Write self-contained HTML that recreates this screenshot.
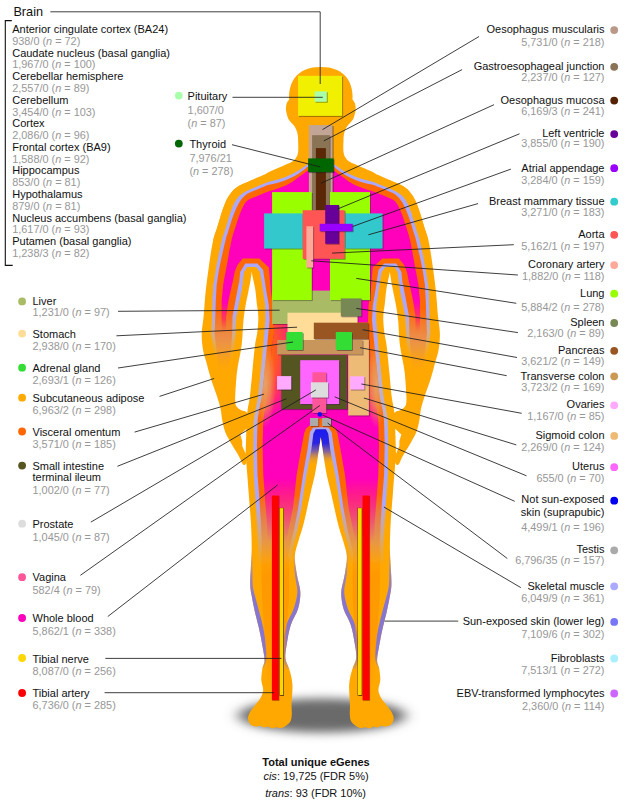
<!DOCTYPE html>
<html lang="en"><head><meta charset="utf-8"><title>GTEx eGenes by tissue</title>
<style>
html,body{margin:0;padding:0;background:#fff}
body{width:627px;height:805px;overflow:hidden;position:relative}
svg{display:block;position:absolute;left:0;top:0}
text{font-family:"Liberation Sans",Arial,Helvetica,sans-serif;font-size:11px;fill:#111}
.v{fill:#979797;font-size:10.9px}
.e{text-anchor:end}
.m{text-anchor:middle}
.b{font-weight:bold}
.h{font-size:12.7px}
.ln{stroke:#1c1c1c;stroke-width:.85;fill:none}
i{font-style:italic}
</style></head><body>
<svg width="627" height="805" viewBox="0 0 627 805">
<defs>
<filter id="bl" x="-40%" y="-150%" width="180%" height="400%"><feGaussianBlur stdDeviation="7 5"/></filter>
<clipPath id="cs"><path d="M320.8 67C319.2 67.1 314.4 67.2 311.5 67.8C308.6 68.4 305.9 69.3 303.5 70.6C301.1 71.8 298.8 73.5 297 75.3C295.2 77.1 293.8 79 292.6 81.2C291.4 83.4 290.6 86.2 290 88.5C289.4 90.8 289.2 93.2 289.1 95C289 96.8 289.1 98.8 289.1 99.5L289.1 99.5C288.7 100.2 287.1 101.9 286.6 103.5C286.1 105.1 285.9 107.2 285.9 109C285.9 110.8 286.3 112.2 286.8 114C287.3 115.8 287.7 117.9 289 120C290.3 122.1 293.2 124.3 294.6 126.4C296 128.5 296.7 130.5 297.3 132.8C297.9 135.1 298 136.8 298.1 140C298.2 143.2 298.5 148.9 298.1 152C297.7 155.1 296.8 156.6 295.7 158.3C294.6 160 293.6 160.8 291.5 162.1C289.4 163.4 286.4 164.4 282.8 166C279.2 167.6 273.2 169.9 270 171.4C266.8 172.9 267 173.3 263.8 174.8C260.6 176.3 255.2 178.5 251 180.4C246.8 182.3 241.7 184.1 238.3 186.3C234.9 188.5 232.7 190.7 230.6 193.4C228.5 196.1 227.1 198.7 225.5 202.3C223.9 205.9 222.4 210.6 221 214.8C219.6 219 218.5 223.4 217.2 227.6C215.9 231.8 214 237.9 213.4 240L251.7 271.9C252 273.6 253.2 278.8 253.8 282C254.4 285.2 255 287.4 255.5 291C256 294.6 256.4 300.3 256.8 303.8C257.2 307.3 257.8 309.3 258 312C258.2 314.7 258.4 316.5 258.3 320C258.2 323.5 257.8 328.8 257.2 333C256.6 337.2 255.8 339.2 255 345.5C254.2 351.8 253.2 362.5 252.4 371C251.6 379.5 250.7 390 249.9 396.5C249.1 403 248.2 405.2 247.6 410C247 414.8 246.7 419.2 246.4 425C246.1 430.8 246 439.2 246 445C246 450.8 246 454.8 246.2 460C246.4 465.2 247 470.7 247.4 476C247.8 481.3 248 484 248.6 492C249.2 500 250.5 514.7 251 524C251.5 533.3 251.7 541.3 251.7 548C251.7 554.7 251.2 558.7 251 564C250.8 569.3 250.3 576 250.2 580C250.1 584 250.2 585.3 250.4 588C250.7 590.7 250.9 592 251.7 596C252.4 600 253.7 606.7 254.9 612C256.1 617.3 257.7 622.7 258.9 628C260.1 633.3 261.2 638.7 262.1 644C263 649.3 264.5 655.8 264.5 660C264.5 664.2 262.8 665.7 262.3 669C261.8 672.3 261.2 676.5 261.3 680C261.4 683.5 263.3 687 263.2 690C263.1 693 261.9 695.3 260.5 698C259.1 700.7 256.3 703.5 254.5 706C252.7 708.5 250.6 710.8 249.5 713C248.4 715.2 247.8 717.1 248 719C248.2 720.9 249.2 723.2 250.5 724.5C251.8 725.8 254.4 726.4 256 726.6C257.6 726.8 258.7 725.7 260 725.8C261.3 725.9 262.7 727.3 264 727.4C265.3 727.5 266.7 726.5 268 726.6C269.3 726.8 270.6 728.2 272 728.3C273.4 728.4 275 727.2 276.5 727.2C278 727.2 279.4 728.2 281 728C282.6 727.8 284.4 727 286 725.8C287.6 724.6 289.6 723 290.6 721C291.6 719 291.6 716.7 291.8 714C292 711.3 291.5 710 291.6 705C291.7 700 292.8 690 292.4 684C292 678 290.4 673.3 289.2 669C288 664.7 285.8 662.2 285.4 658C285 653.8 285.9 649.5 286.8 644C287.7 638.5 288.9 630.8 290.8 625C292.7 619.2 296.4 614.3 298 609C299.6 603.7 300.4 597.8 300.4 593C300.4 588.2 298.7 583.6 298 580C297.3 576.4 296.9 575.6 296.4 571.6C295.9 567.6 294.4 561 294.8 555.7C295.2 550.4 297.3 545 298.8 539.7C300.3 534.4 301.6 531.8 303.6 523.8C305.6 515.8 308.9 500 310.8 491.9C312.7 483.8 313.7 480.3 314.8 475C315.9 469.7 316.4 466.3 317.4 460C318.4 453.7 320.2 441.1 320.8 437.3L320.8 437.3C321.4 441.1 323.2 453.7 324.2 460C325.2 466.3 325.7 469.7 326.8 475C327.9 480.3 328.9 483.8 330.8 491.9C332.7 500 336 515.8 338 523.8C340 531.8 341.3 534.4 342.8 539.7C344.3 545 346.4 550.4 346.8 555.7C347.2 561 345.7 567.6 345.2 571.6C344.7 575.6 344.3 576.4 343.6 580C342.9 583.6 341.2 588.2 341.2 593C341.2 597.8 342 603.7 343.6 609C345.2 614.3 348.9 619.2 350.8 625C352.7 630.8 353.9 638.5 354.8 644C355.7 649.5 356.6 653.8 356.2 658C355.8 662.2 353.6 664.7 352.4 669C351.2 673.3 349.6 678 349.2 684C348.8 690 349.9 700 350 705C350.1 710 349.6 711.3 349.8 714C350 716.7 350 719 351 721C352 723 354 724.6 355.6 725.8C357.2 727 359 727.8 360.6 728C362.2 728.2 363.6 727.2 365.1 727.2C366.6 727.2 368.2 728.4 369.6 728.3C371 728.2 372.3 726.8 373.6 726.6C374.9 726.5 376.3 727.5 377.6 727.4C378.9 727.3 380.3 725.9 381.6 725.8C382.9 725.7 384 726.8 385.6 726.6C387.2 726.4 389.8 725.8 391.1 724.5C392.4 723.2 393.4 720.9 393.6 719C393.8 717.1 393.2 715.2 392.1 713C391 710.8 388.9 708.5 387.1 706C385.3 703.5 382.6 700.7 381.1 698C379.7 695.3 378.5 693 378.4 690C378.3 687 380.2 683.5 380.3 680C380.4 676.5 379.8 672.3 379.3 669C378.8 665.7 377.1 664.2 377.1 660C377.1 655.8 378.6 649.3 379.5 644C380.4 638.7 381.5 633.3 382.7 628C383.9 622.7 385.5 617.3 386.7 612C387.9 606.7 389.2 600 389.9 596C390.7 592 391 590.7 391.2 588C391.5 585.3 391.5 584 391.4 580C391.3 576 390.9 569.3 390.6 564C390.4 558.7 389.9 554.7 389.9 548C389.9 541.3 390.1 533.3 390.6 524C391.1 514.7 392.4 500 393 492C393.6 484 393.8 481.3 394.2 476C394.6 470.7 395.2 465.2 395.4 460C395.6 454.8 395.6 450.8 395.6 445C395.6 439.2 395.5 430.8 395.2 425C394.9 419.2 394.6 414.8 394 410C393.4 405.2 392.5 403 391.7 396.5C390.9 390 390.1 379.5 389.2 371C388.4 362.5 387.4 351.8 386.6 345.5C385.8 339.2 385 337.2 384.4 333C383.9 328.8 383.4 323.5 383.3 320C383.2 316.5 383.4 314.7 383.6 312C383.9 309.3 384.4 307.3 384.8 303.8C385.2 300.3 385.6 294.6 386.1 291C386.6 287.4 387.2 285.2 387.8 282C388.4 278.8 389.6 273.6 389.9 271.9L428.2 240C427.6 237.9 425.7 231.8 424.4 227.6C423.1 223.4 422 219 420.6 214.8C419.2 210.6 417.7 205.9 416.1 202.3C414.5 198.7 413.1 196.1 411 193.4C408.9 190.7 406.7 188.5 403.3 186.3C399.9 184.1 394.9 182.3 390.6 180.4C386.4 178.5 381 176.3 377.8 174.8C374.6 173.3 374.8 172.9 371.6 171.4C368.4 169.9 362.4 167.6 358.8 166C355.2 164.4 352.2 163.4 350.1 162.1C348 160.8 347 160 345.9 158.3C344.8 156.6 343.9 155.1 343.5 152C343.1 148.9 343.4 143.2 343.5 140C343.6 136.8 343.7 135.1 344.3 132.8C344.9 130.5 345.6 128.5 347 126.4C348.4 124.3 351.3 122.1 352.6 120C353.9 117.9 354.3 115.8 354.8 114C355.3 112.2 355.7 110.8 355.7 109C355.7 107.2 355.5 105.1 355 103.5C354.5 101.9 352.9 100.2 352.5 99.5L352.5 99.5C352.5 98.8 352.6 96.8 352.5 95C352.4 93.2 352.2 90.8 351.6 88.5C351 86.2 350.2 83.4 349 81.2C347.8 79 346.4 77.1 344.6 75.3C342.8 73.5 340.5 71.8 338.1 70.6C335.7 69.3 333 68.4 330.1 67.8C327.2 67.2 322.4 67.1 320.8 67Z"/></clipPath>
<linearGradient id="gL" gradientUnits="userSpaceOnUse" x1="0" y1="502" x2="0" y2="566"><stop offset="0" stop-color="#ABA8FA"/><stop offset="1" stop-color="#ABA8FA" stop-opacity="0"/></linearGradient>
<linearGradient id="gR" gradientUnits="userSpaceOnUse" x1="0" y1="494" x2="0" y2="560"><stop offset="0" stop-color="#FF6702"/><stop offset="1" stop-color="#FF6702" stop-opacity="0"/></linearGradient>
<linearGradient id="gM" gradientUnits="userSpaceOnUse" x1="0" y1="478" x2="0" y2="542"><stop offset="0" stop-color="#FF00BB"/><stop offset="1" stop-color="#FF00BB" stop-opacity="0"/></linearGradient>
<linearGradient id="aL" gradientUnits="userSpaceOnUse" x1="0" y1="312" x2="0" y2="360"><stop offset="0" stop-color="#ABA8FA"/><stop offset="0.5" stop-color="#C8B0B0" stop-opacity="0.75"/><stop offset="1" stop-color="#E0A860" stop-opacity="0"/></linearGradient>
<linearGradient id="aR" gradientUnits="userSpaceOnUse" x1="0" y1="308" x2="0" y2="372"><stop offset="0" stop-color="#FF6702"/><stop offset="0.45" stop-color="#F08840" stop-opacity="0.9"/><stop offset="1" stop-color="#F09830" stop-opacity="0"/></linearGradient>
<linearGradient id="aM" gradientUnits="userSpaceOnUse" x1="0" y1="302" x2="0" y2="332"><stop offset="0" stop-color="#FF00BB"/><stop offset="0.6" stop-color="#FF3060" stop-opacity="0.8"/><stop offset="1" stop-color="#FF5040" stop-opacity="0"/></linearGradient>
<radialGradient id="gV" gradientUnits="userSpaceOnUse" cx="255" cy="352" r="1" gradientTransform="translate(255 352) scale(46 76) translate(-255 -352)"><stop offset="0" stop-color="#FF6A00"/><stop offset="0.3" stop-color="#FF6A00"/><stop offset="0.5" stop-color="#FF5030" stop-opacity="1"/><stop offset="0.72" stop-color="#FF3262" stop-opacity="0.95"/><stop offset="0.88" stop-color="#FF1890" stop-opacity="0.6"/><stop offset="1" stop-color="#FF00BB" stop-opacity="0"/></radialGradient>
<radialGradient id="gT" gradientUnits="userSpaceOnUse" cx="265" cy="384" r="1" gradientTransform="translate(265 384) scale(11 44) translate(-265 -384)"><stop offset="0" stop-color="#E4A470" stop-opacity="0.95"/><stop offset="0.5" stop-color="#EC9858" stop-opacity="0.7"/><stop offset="1" stop-color="#F09048" stop-opacity="0"/></radialGradient>
<linearGradient id="gLz" gradientUnits="userSpaceOnUse" x1="0" y1="335" x2="0" y2="436"><stop offset="0" stop-color="#CDB6AA" stop-opacity="0"/><stop offset="0.4" stop-color="#CDB6AA" stop-opacity="0.62"/><stop offset="0.8" stop-color="#CDB6AA" stop-opacity="0.58"/><stop offset="1" stop-color="#CDB6AA" stop-opacity="0"/></linearGradient>
<linearGradient id="gB" gradientUnits="userSpaceOnUse" x1="0" y1="429" x2="0" y2="466"><stop offset="0" stop-color="#1a1af0"/><stop offset="0.38" stop-color="#2a24e4"/><stop offset="0.6" stop-color="#7058b0" stop-opacity="0.9"/><stop offset="0.8" stop-color="#d09050" stop-opacity="0.6"/><stop offset="1" stop-color="#FFA802" stop-opacity="0"/></linearGradient>
<linearGradient id="gC" gradientUnits="userSpaceOnUse" x1="0" y1="548" x2="0" y2="672"><stop offset="0" stop-color="#9A88C8" stop-opacity="0"/><stop offset="0.22" stop-color="#9080CC" stop-opacity="0.85"/><stop offset="0.4" stop-color="#8676D2" stop-opacity="1"/><stop offset="0.85" stop-color="#8676D2" stop-opacity="1"/><stop offset="1" stop-color="#8676D2" stop-opacity="0"/></linearGradient>
<linearGradient id="gS" gradientUnits="userSpaceOnUse" x1="0" y1="540" x2="0" y2="690"><stop offset="0" stop-color="#FF8C00" stop-opacity="0"/><stop offset="0.25" stop-color="#FF8C00" stop-opacity="0.55"/><stop offset="0.7" stop-color="#FF8C00" stop-opacity="0.45"/><stop offset="1" stop-color="#FF8C00" stop-opacity="0"/></linearGradient>
</defs>
<ellipse cx="322" cy="715.5" rx="84" ry="17" fill="#6a6a6a" filter="url(#bl)"/>
<path d="M320.8 67C319.2 67.1 314.4 67.2 311.5 67.8C308.6 68.4 305.9 69.3 303.5 70.6C301.1 71.8 298.8 73.5 297 75.3C295.2 77.1 293.8 79 292.6 81.2C291.4 83.4 290.6 86.2 290 88.5C289.4 90.8 289.2 93.2 289.1 95C289 96.8 289.1 98.8 289.1 99.5L289.1 99.5C288.7 100.2 287.1 101.9 286.6 103.5C286.1 105.1 285.9 107.2 285.9 109C285.9 110.8 286.3 112.2 286.8 114C287.3 115.8 287.7 117.9 289 120C290.3 122.1 293.2 124.3 294.6 126.4C296 128.5 296.7 130.5 297.3 132.8C297.9 135.1 298 136.8 298.1 140C298.2 143.2 298.5 148.9 298.1 152C297.7 155.1 296.8 156.6 295.7 158.3C294.6 160 293.6 160.8 291.5 162.1C289.4 163.4 286.4 164.4 282.8 166C279.2 167.6 273.2 169.9 270 171.4C266.8 172.9 267 173.3 263.8 174.8C260.6 176.3 255.2 178.5 251 180.4C246.8 182.3 241.7 184.1 238.3 186.3C234.9 188.5 232.7 190.7 230.6 193.4C228.5 196.1 227.1 198.7 225.5 202.3C223.9 205.9 222.4 210.6 221 214.8C219.6 219 218.5 223.4 217.2 227.6C215.9 231.8 214 237.9 213.4 240L251.7 271.9C252 273.6 253.2 278.8 253.8 282C254.4 285.2 255 287.4 255.5 291C256 294.6 256.4 300.3 256.8 303.8C257.2 307.3 257.8 309.3 258 312C258.2 314.7 258.4 316.5 258.3 320C258.2 323.5 257.8 328.8 257.2 333C256.6 337.2 255.8 339.2 255 345.5C254.2 351.8 253.2 362.5 252.4 371C251.6 379.5 250.7 390 249.9 396.5C249.1 403 248.2 405.2 247.6 410C247 414.8 246.7 419.2 246.4 425C246.1 430.8 246 439.2 246 445C246 450.8 246 454.8 246.2 460C246.4 465.2 247 470.7 247.4 476C247.8 481.3 248 484 248.6 492C249.2 500 250.5 514.7 251 524C251.5 533.3 251.7 541.3 251.7 548C251.7 554.7 251.2 558.7 251 564C250.8 569.3 250.3 576 250.2 580C250.1 584 250.2 585.3 250.4 588C250.7 590.7 250.9 592 251.7 596C252.4 600 253.7 606.7 254.9 612C256.1 617.3 257.7 622.7 258.9 628C260.1 633.3 261.2 638.7 262.1 644C263 649.3 264.5 655.8 264.5 660C264.5 664.2 262.8 665.7 262.3 669C261.8 672.3 261.2 676.5 261.3 680C261.4 683.5 263.3 687 263.2 690C263.1 693 261.9 695.3 260.5 698C259.1 700.7 256.3 703.5 254.5 706C252.7 708.5 250.6 710.8 249.5 713C248.4 715.2 247.8 717.1 248 719C248.2 720.9 249.2 723.2 250.5 724.5C251.8 725.8 254.4 726.4 256 726.6C257.6 726.8 258.7 725.7 260 725.8C261.3 725.9 262.7 727.3 264 727.4C265.3 727.5 266.7 726.5 268 726.6C269.3 726.8 270.6 728.2 272 728.3C273.4 728.4 275 727.2 276.5 727.2C278 727.2 279.4 728.2 281 728C282.6 727.8 284.4 727 286 725.8C287.6 724.6 289.6 723 290.6 721C291.6 719 291.6 716.7 291.8 714C292 711.3 291.5 710 291.6 705C291.7 700 292.8 690 292.4 684C292 678 290.4 673.3 289.2 669C288 664.7 285.8 662.2 285.4 658C285 653.8 285.9 649.5 286.8 644C287.7 638.5 288.9 630.8 290.8 625C292.7 619.2 296.4 614.3 298 609C299.6 603.7 300.4 597.8 300.4 593C300.4 588.2 298.7 583.6 298 580C297.3 576.4 296.9 575.6 296.4 571.6C295.9 567.6 294.4 561 294.8 555.7C295.2 550.4 297.3 545 298.8 539.7C300.3 534.4 301.6 531.8 303.6 523.8C305.6 515.8 308.9 500 310.8 491.9C312.7 483.8 313.7 480.3 314.8 475C315.9 469.7 316.4 466.3 317.4 460C318.4 453.7 320.2 441.1 320.8 437.3L320.8 437.3C321.4 441.1 323.2 453.7 324.2 460C325.2 466.3 325.7 469.7 326.8 475C327.9 480.3 328.9 483.8 330.8 491.9C332.7 500 336 515.8 338 523.8C340 531.8 341.3 534.4 342.8 539.7C344.3 545 346.4 550.4 346.8 555.7C347.2 561 345.7 567.6 345.2 571.6C344.7 575.6 344.3 576.4 343.6 580C342.9 583.6 341.2 588.2 341.2 593C341.2 597.8 342 603.7 343.6 609C345.2 614.3 348.9 619.2 350.8 625C352.7 630.8 353.9 638.5 354.8 644C355.7 649.5 356.6 653.8 356.2 658C355.8 662.2 353.6 664.7 352.4 669C351.2 673.3 349.6 678 349.2 684C348.8 690 349.9 700 350 705C350.1 710 349.6 711.3 349.8 714C350 716.7 350 719 351 721C352 723 354 724.6 355.6 725.8C357.2 727 359 727.8 360.6 728C362.2 728.2 363.6 727.2 365.1 727.2C366.6 727.2 368.2 728.4 369.6 728.3C371 728.2 372.3 726.8 373.6 726.6C374.9 726.5 376.3 727.5 377.6 727.4C378.9 727.3 380.3 725.9 381.6 725.8C382.9 725.7 384 726.8 385.6 726.6C387.2 726.4 389.8 725.8 391.1 724.5C392.4 723.2 393.4 720.9 393.6 719C393.8 717.1 393.2 715.2 392.1 713C391 710.8 388.9 708.5 387.1 706C385.3 703.5 382.6 700.7 381.1 698C379.7 695.3 378.5 693 378.4 690C378.3 687 380.2 683.5 380.3 680C380.4 676.5 379.8 672.3 379.3 669C378.8 665.7 377.1 664.2 377.1 660C377.1 655.8 378.6 649.3 379.5 644C380.4 638.7 381.5 633.3 382.7 628C383.9 622.7 385.5 617.3 386.7 612C387.9 606.7 389.2 600 389.9 596C390.7 592 391 590.7 391.2 588C391.5 585.3 391.5 584 391.4 580C391.3 576 390.9 569.3 390.6 564C390.4 558.7 389.9 554.7 389.9 548C389.9 541.3 390.1 533.3 390.6 524C391.1 514.7 392.4 500 393 492C393.6 484 393.8 481.3 394.2 476C394.6 470.7 395.2 465.2 395.4 460C395.6 454.8 395.6 450.8 395.6 445C395.6 439.2 395.5 430.8 395.2 425C394.9 419.2 394.6 414.8 394 410C393.4 405.2 392.5 403 391.7 396.5C390.9 390 390.1 379.5 389.2 371C388.4 362.5 387.4 351.8 386.6 345.5C385.8 339.2 385 337.2 384.4 333C383.9 328.8 383.4 323.5 383.3 320C383.2 316.5 383.4 314.7 383.6 312C383.9 309.3 384.4 307.3 384.8 303.8C385.2 300.3 385.6 294.6 386.1 291C386.6 287.4 387.2 285.2 387.8 282C388.4 278.8 389.6 273.6 389.9 271.9L428.2 240C427.6 237.9 425.7 231.8 424.4 227.6C423.1 223.4 422 219 420.6 214.8C419.2 210.6 417.7 205.9 416.1 202.3C414.5 198.7 413.1 196.1 411 193.4C408.9 190.7 406.7 188.5 403.3 186.3C399.9 184.1 394.9 182.3 390.6 180.4C386.4 178.5 381 176.3 377.8 174.8C374.6 173.3 374.8 172.9 371.6 171.4C368.4 169.9 362.4 167.6 358.8 166C355.2 164.4 352.2 163.4 350.1 162.1C348 160.8 347 160 345.9 158.3C344.8 156.6 343.9 155.1 343.5 152C343.1 148.9 343.4 143.2 343.5 140C343.6 136.8 343.7 135.1 344.3 132.8C344.9 130.5 345.6 128.5 347 126.4C348.4 124.3 351.3 122.1 352.6 120C353.9 117.9 354.3 115.8 354.8 114C355.3 112.2 355.7 110.8 355.7 109C355.7 107.2 355.5 105.1 355 103.5C354.5 101.9 352.9 100.2 352.5 99.5L352.5 99.5C352.5 98.8 352.6 96.8 352.5 95C352.4 93.2 352.2 90.8 351.6 88.5C351 86.2 350.2 83.4 349 81.2C347.8 79 346.4 77.1 344.6 75.3C342.8 73.5 340.5 71.8 338.1 70.6C335.7 69.3 333 68.4 330.1 67.8C327.2 67.2 322.4 67.1 320.8 67Z" fill="#FFA802"/>
<path d="M252 180C249.7 181.1 241.9 184.1 238.3 186.3C234.7 188.5 232.7 190.7 230.6 193.4C228.5 196.1 227.1 198.7 225.5 202.3C223.9 205.9 222.4 210.6 221 214.8C219.6 219 218.5 223.4 217.2 227.6C215.9 231.8 214.6 233.7 213.2 240C211.8 246.3 210.2 257 209 265.5C207.8 274 206.6 282.5 205.7 291C204.8 299.5 204.3 309.4 203.6 316.5C202.9 323.6 201.8 328.3 201.7 333.8C201.6 339.3 202.2 344.8 203 349.7C203.8 354.6 205.7 359.6 206.6 363C207.5 366.4 207.5 366.7 208.4 370C209.3 373.3 210.8 378.6 212.2 382.8C213.6 387.1 215.3 391.2 216.7 395.5C218.1 399.8 219.6 404.1 220.5 408.3C221.4 412.6 221.6 417.1 222.4 421C223.2 424.9 224 428.8 225.2 432C226.4 435.2 228.1 437.8 229.4 440.2C230.7 442.6 231.8 444.5 233 446.5C234.2 448.5 235.3 449.9 236.5 452C237.7 454.1 239.3 457 240.3 459C241.3 461 241.9 463 242.6 464C243.3 465 244 465.2 244.6 465C245.2 464.8 245.9 464.2 246.4 463C246.9 461.8 247.3 458.8 247.5 458L248.5 430L248.5 414C248 413.6 246.8 412.4 245.4 411.6C244 410.9 241.6 410.5 240 409.5C238.4 408.5 236.8 407.1 236 405.5C235.2 403.9 235.3 401.5 235.2 400C235.1 398.5 234.9 401.3 235.2 396.5C235.5 391.7 236 379.5 237.1 371C238.2 362.5 240.5 354 241.6 345.5C242.7 337 242.8 326.9 243.5 320C244.2 313.1 245.1 308.6 245.9 303.8C246.7 299 247.8 294.8 248.5 291C249.2 287.2 249.9 284.2 250.4 281C250.9 277.8 251.5 273.4 251.7 271.9L262 240L262 195L252 180Z" fill="#FFA802"/>
<path d="M252 180C249.7 181.1 241.9 184.1 238.3 186.3C234.7 188.5 232.7 190.7 230.6 193.4C228.5 196.1 227.1 198.7 225.5 202.3C223.9 205.9 222.4 210.6 221 214.8C219.6 219 218.5 223.4 217.2 227.6C215.9 231.8 214.6 233.7 213.2 240C211.8 246.3 210.2 257 209 265.5C207.8 274 206.6 282.5 205.7 291C204.8 299.5 204.3 309.4 203.6 316.5C202.9 323.6 201.8 328.3 201.7 333.8C201.6 339.3 202.2 344.8 203 349.7C203.8 354.6 205.7 359.6 206.6 363C207.5 366.4 207.5 366.7 208.4 370C209.3 373.3 210.8 378.6 212.2 382.8C213.6 387.1 215.3 391.2 216.7 395.5C218.1 399.8 219.6 404.1 220.5 408.3C221.4 412.6 221.6 417.1 222.4 421C223.2 424.9 224 428.8 225.2 432C226.4 435.2 228.1 437.8 229.4 440.2C230.7 442.6 231.8 444.5 233 446.5C234.2 448.5 235.3 449.9 236.5 452C237.7 454.1 239.3 457 240.3 459C241.3 461 241.9 463 242.6 464C243.3 465 244 465.2 244.6 465C245.2 464.8 245.9 464.2 246.4 463C246.9 461.8 247.3 458.8 247.5 458L248.5 430L248.5 414C248 413.6 246.8 412.4 245.4 411.6C244 410.9 241.6 410.5 240 409.5C238.4 408.5 236.8 407.1 236 405.5C235.2 403.9 235.3 401.5 235.2 400C235.1 398.5 234.9 401.3 235.2 396.5C235.5 391.7 236 379.5 237.1 371C238.2 362.5 240.5 354 241.6 345.5C242.7 337 242.8 326.9 243.5 320C244.2 313.1 245.1 308.6 245.9 303.8C246.7 299 247.8 294.8 248.5 291C249.2 287.2 249.9 284.2 250.4 281C250.9 277.8 251.5 273.4 251.7 271.9L262 240L262 195L252 180Z" fill="#FFA802" transform="translate(641.6 0) scale(-1 1)"/>
<path d="M246.4 428.8L240.3 434.5L242.2 440.9L242.2 446L245.6 453.7Z" fill="#fff"/>
<path d="M246.4 428.8L240.3 434.5L242.2 440.9L242.2 446L245.6 453.7Z" fill="#fff" transform="translate(641.6 0) scale(-1 1)"/>
<path d="M320.8 157.5C318.7 158.6 311 162.5 308.3 164C305.6 165.5 306.5 165.2 304.4 166.6C302.3 168 299.1 170.4 295.5 172.3C291.9 174.2 287.1 176.4 282.8 178C278.6 179.6 273.2 180.6 270 181.6C266.8 182.6 267 182.6 263.8 183.8C260.6 185.1 254.6 187.4 251 189.1C247.4 190.8 244.5 192.1 242.1 193.8C239.7 195.5 238.1 197.1 236.4 199.5C234.7 201.9 233.3 205.1 231.9 208.5C230.5 211.9 229.3 216.2 228.1 220C226.9 223.8 225.7 228.1 224.7 231.4C223.7 234.7 223.3 234.3 222 240C220.7 245.7 218 258 216.6 265.5C215.2 273 214.3 279.2 213.6 285C212.9 290.8 212.8 297.5 212.6 300L239.6 300L241.5 291L244 272L247.2 267L256.1 267L260 271.9L263.1 291L265.2 305L265.4 320L263.3 345.5L260.7 371L258.2 396.5L255.5 410L253.7 420.5L253.3 446L253.7 475L254.9 492L257 524L258 548L257.5 570L291 570L293 548L297.5 530L301.3 508L303.6 492L306.4 475L311.3 450L313.4 433.5L315.7 429.3L320.8 429.2L320.8 429.2L325.9 429.3L328.2 433.5L330.3 450L335.2 475L338 492L340.3 508L344.1 530L348.6 548L350.6 570L384.1 570L383.6 548L384.6 524L386.7 492L387.9 475L388.3 446L387.9 420.5L386.1 410L383.4 396.5L380.9 371L378.3 345.5L376.2 320L376.4 305L378.5 291L381.6 271.9L385.5 267L394.4 267L397.6 272L400.1 291L402 300L429 300C428.8 297.5 428.7 290.8 428 285C427.3 279.2 426.4 273 425 265.5C423.6 258 421 245.7 419.6 240C418.2 234.3 417.9 234.7 416.9 231.4C415.9 228.1 414.7 223.8 413.5 220C412.3 216.2 411.1 211.9 409.7 208.5C408.3 205.1 406.9 201.9 405.2 199.5C403.5 197.1 401.9 195.5 399.5 193.8C397.1 192.1 394.2 190.8 390.6 189.1C387 187.4 381 185.1 377.8 183.8C374.6 182.6 374.8 182.6 371.6 181.6C368.4 180.6 363.1 179.6 358.8 178C354.6 176.4 349.7 174.2 346.1 172.3C342.5 170.4 339.3 168 337.2 166.6C335.1 165.2 336 165.5 333.3 164C330.6 162.5 322.9 158.6 320.8 157.5Z" fill="url(#gL)"/>
<path d="M320.8 160.5C318.7 161.5 311 165 308.3 166.5C305.6 168 306.5 167.9 304.4 169.4C302.3 170.9 299.1 173.5 295.5 175.5C291.9 177.5 287.1 179.7 282.8 181.2C278.6 182.7 273.2 183.7 270 184.6C266.8 185.5 267 185.4 263.8 186.7C260.6 187.9 254.3 190.5 251 192.1C247.7 193.7 245.9 194.7 244 196.4C242.1 198.1 241 199.7 239.5 202.1C238 204.5 236.5 207.8 235.1 211C233.7 214.2 232.5 217.6 231.3 221.2C230.1 224.8 228.8 229.6 227.8 232.7C226.9 235.8 226.9 234.5 225.6 240C224.3 245.5 221.3 258 219.8 265.5C218.3 273 217.5 279.2 216.8 285C216.1 290.8 216 297.5 215.8 300L235.6 300L238.3 291L240.2 272L245.3 263.6L257.4 263.6L263.1 270L266.3 291L268.8 305L269.6 320L267.1 345.5L264.5 371L262 396.5L259 410L257.5 420.5L256.9 446L257.5 475L258.9 492L261 524L262 548L261.5 566L287.5 566L289.5 548L294 530L298.2 508L300.5 492L303 475L307.4 450L310 432L313.2 427.5L320.8 427.3L320.8 427.3L328.4 427.5L331.6 432L334.2 450L338.6 475L341.1 492L343.4 508L347.6 530L352.1 548L354.1 566L380.1 566L379.6 548L380.6 524L382.7 492L384.1 475L384.7 446L384.1 420.5L382.6 410L379.6 396.5L377.1 371L374.5 345.5L372 320L372.8 305L375.3 291L378.5 270L384.2 263.6L396.3 263.6L401.4 272L403.3 291L406 300L425.8 300C425.6 297.5 425.5 290.8 424.8 285C424.1 279.2 423.3 273 421.8 265.5C420.3 258 417.3 245.5 416 240C414.7 234.5 414.8 235.8 413.8 232.7C412.9 229.6 411.5 224.8 410.3 221.2C409.1 217.6 407.9 214.2 406.5 211C405.1 207.8 403.6 204.5 402.1 202.1C400.6 199.7 399.5 198.1 397.6 196.4C395.7 194.7 393.9 193.7 390.6 192.1C387.3 190.5 381 187.9 377.8 186.7C374.6 185.4 374.8 185.5 371.6 184.6C368.4 183.7 363.1 182.7 358.8 181.2C354.6 179.7 349.7 177.5 346.1 175.5C342.5 173.5 339.3 170.9 337.2 169.4C335.1 167.9 336 168 333.3 166.5C330.6 165 322.9 161.5 320.8 160.5Z" fill="url(#gR)"/>
<path d="M320.8 165C318.7 165.9 311.5 168.8 308.3 170.4C305.1 172 305.1 172.6 301.9 174.8C298.7 177 293.4 181.5 289.1 183.8C284.9 186.2 279.6 187.7 276.4 188.9C273.2 190.1 272.1 190.2 270 190.9C267.9 191.6 266.5 192.1 263.8 193.2C261.1 194.3 256.4 196.3 253.6 197.6C250.8 198.9 248.9 199.4 247.2 200.8C245.5 202.2 244.7 203.6 243.4 205.9C242.1 208.2 240.8 211.4 239.5 214.8C238.2 218.2 237 222.1 235.7 226.3C234.4 230.5 233.1 233.5 231.6 240C230.1 246.5 228.2 258 226.8 265.5C225.4 273 224 279.2 223.2 285C222.3 290.8 221.9 297.5 221.7 300L228.6 300L231 291L234.6 272L237.5 265L242.7 258.5L259.3 258.5L268.9 267.4L270.8 291L273 305L274.1 333L272 345.5L270 371L267.5 396.5L265 410L263.3 420.5L262.6 446L263.3 475L264.5 492L267 524L268 548L268 555L284 555L285.5 545L289.5 525L293 508L294.8 492L296.6 475L301 450L304.2 433L306 428.5L310 425.2L311 419L320.8 418.6L320.8 418.6L330.6 419L331.6 425.2L335.6 428.5L337.4 433L340.6 450L345 475L346.8 492L348.6 508L352.1 525L356.1 545L357.6 555L373.6 555L373.6 548L374.6 524L377.1 492L378.3 475L379 446L378.3 420.5L376.6 410L374.1 396.5L371.6 371L369.6 345.5L367.5 333L368.6 305L370.8 291L372.7 267.4L382.3 258.5L398.9 258.5L404.1 265L407 272L410.6 291L413 300L419.9 300C419.7 297.5 419.3 290.8 418.4 285C417.6 279.2 416.2 273 414.8 265.5C413.4 258 411.5 246.5 410 240C408.5 233.5 407.2 230.5 405.9 226.3C404.6 222.1 403.4 218.2 402.1 214.8C400.8 211.4 399.5 208.2 398.2 205.9C396.9 203.6 396.1 202.2 394.4 200.8C392.7 199.4 390.8 198.9 388 197.6C385.2 196.3 380.5 194.3 377.8 193.2C375.1 192.1 373.7 191.6 371.6 190.9C369.5 190.2 368.4 190.1 365.2 188.9C362 187.7 356.8 186.2 352.5 183.8C348.2 181.5 342.9 177 339.7 174.8C336.5 172.6 336.5 172 333.3 170.4C330.1 168.8 322.9 165.9 320.8 165Z" fill="url(#gM)"/>
<path d="M213.6 283L212.6 300L212.1 316.5L211.2 333.8L213.3 349.7L216.5 362L231 362L234.1 349.7L235.6 333.8L236.4 316.5L239.6 300L242.6 283Z" fill="url(#aL)"/>
<path d="M213.6 283L212.6 300L212.1 316.5L211.2 333.8L213.3 349.7L216.5 362L231 362L234.1 349.7L235.6 333.8L236.4 316.5L239.6 300L242.6 283Z" fill="url(#aL)" transform="translate(641.6 0) scale(-1 1)"/>
<path d="M216.8 283L215.8 300L215.3 316.5L214.6 333.8L216.5 349.7L219 372L228.5 372L231 349.7L232.2 333.8L232.5 316.5L235.6 300L238.9 283Z" fill="url(#aR)"/>
<path d="M216.8 283L215.8 300L215.3 316.5L214.6 333.8L216.5 349.7L219 372L228.5 372L231 349.7L232.2 333.8L232.5 316.5L235.6 300L238.9 283Z" fill="url(#aR)" transform="translate(641.6 0) scale(-1 1)"/>
<path d="M223.4 283L221.7 300L221.5 316.5L222 337L226 337L226.2 316.5L228.6 300L232.4 283Z" fill="url(#aM)"/>
<path d="M223.4 283L221.7 300L221.5 316.5L222 337L226 337L226.2 316.5L228.6 300L232.4 283Z" fill="url(#aM)" transform="translate(641.6 0) scale(-1 1)"/>
<path d="M273.9 322L302 322L302 430L263.3 430L263.3 420.5L265 410L267.5 396.5L270 371L272 345.5L274.1 333Z" fill="url(#gV)"/>
<path d="M273.9 322L302 322L302 430L263.3 430L263.3 420.5L265 410L267.5 396.5L270 371L272 345.5L274.1 333Z" fill="url(#gV)" transform="translate(641.6 0) scale(-1 1)"/>
<path d="M265.4 330L269.6 330L267.1 345.5L264.5 371L262 396.5L259 410L257.5 420.5L257 436L253.3 436L253.7 420.5L255.5 410L258.2 396.5L260.7 371L263.3 345.5Z" fill="url(#gLz)"/>
<path d="M265.4 330L269.6 330L267.1 345.5L264.5 371L262 396.5L259 410L257.5 420.5L257 436L253.3 436L253.7 420.5L255.5 410L258.2 396.5L260.7 371L263.3 345.5Z" fill="url(#gLz)" transform="translate(641.6 0) scale(-1 1)"/>
<path d="M269.6 320L280 330L280 400L268 432L257 432L257.5 420.5L259 410L262 396.5L264.5 371L267.1 345.5Z" fill="url(#gT)"/>
<path d="M269.6 320L280 330L280 400L268 432L257 432L257.5 420.5L259 410L262 396.5L264.5 371L267.1 345.5Z" fill="url(#gT)" transform="translate(641.6 0) scale(-1 1)"/>
<path d="M320.8 429.2L315.7 429.3L313.4 433.5L311.3 450L308 468L316 468L317.4 460L320.8 437.3L320.8 437.3L324.2 460L325.6 468L333.6 468L330.3 450L328.2 433.5L325.9 429.3L320.8 429.2Z" fill="url(#gB)" clip-path="url(#cs)"/>
<g clip-path="url(#cs)">
<path d="M248.4 548C248.3 550.7 248.2 558.7 248 564C247.8 569.3 247.3 576 247.2 580C247.1 584 247.2 585.3 247.4 588C247.7 590.7 247.9 592 248.7 596C249.4 600 250.7 606.7 251.9 612C253.1 617.3 254.7 622.7 255.9 628C257.1 633.3 258.2 638.7 259.1 644C260 649.3 261.5 655.8 261.5 660C261.5 664.2 259.7 667.5 259.3 669L263.1 669C263.7 667.5 265.9 664.2 266.4 660C266.8 655.8 266.2 649.3 265.7 644C265.2 638.7 264.4 633.3 263.3 628C262.2 622.7 260.7 617.3 259.3 612C257.9 606.7 256.1 600 255 596C254 592 253.5 590.7 253.1 588C252.7 585.3 252.6 584 252.5 580C252.4 576 252.6 569.3 252.5 564C252.5 558.7 252.3 550.7 252.2 548Z" fill="url(#gC)"/>
<path d="M248.4 548C248.3 550.7 248.2 558.7 248 564C247.8 569.3 247.3 576 247.2 580C247.1 584 247.2 585.3 247.4 588C247.7 590.7 247.9 592 248.7 596C249.4 600 250.7 606.7 251.9 612C253.1 617.3 254.7 622.7 255.9 628C257.1 633.3 258.2 638.7 259.1 644C260 649.3 261.5 655.8 261.5 660C261.5 664.2 259.7 667.5 259.3 669L263.1 669C263.7 667.5 265.9 664.2 266.4 660C266.8 655.8 266.2 649.3 265.7 644C265.2 638.7 264.4 633.3 263.3 628C262.2 622.7 260.7 617.3 259.3 612C257.9 606.7 256.1 600 255 596C254 592 253.5 590.7 253.1 588C252.7 585.3 252.6 584 252.5 580C252.4 576 252.6 569.3 252.5 564C252.5 558.7 252.3 550.7 252.2 548Z" fill="url(#gC)" transform="translate(641.6 0) scale(-1 1)"/>
<path d="M297.8 548C297.8 549.3 297.5 551.8 297.8 555.7C298.1 559.6 298.9 567.6 299.4 571.6C299.9 575.6 300.3 576.4 301 580C301.7 583.6 303.4 588.2 303.4 593C303.4 597.8 302.6 603.7 301 609C299.4 614.3 295.7 619.2 293.8 625C291.9 630.8 290.7 638.5 289.8 644C288.9 649.5 288.4 653.8 288.4 658C288.3 662.2 289.3 667.2 289.5 669L285.7 669C285.3 667.2 283.7 662.2 283.3 658C282.9 653.8 282.7 649.5 283.2 644C283.7 638.5 284.7 630.8 286.4 625C288.1 619.2 291.8 614.3 293.6 609C295.4 603.7 297 597.8 297.3 593C297.7 588.2 296.2 583.6 295.7 580C295.2 576.4 294.9 575.6 294.5 571.6C294.2 567.6 293.7 559.6 293.7 555.7C293.6 551.8 293.9 549.3 294 548Z" fill="url(#gC)"/>
<path d="M297.8 548C297.8 549.3 297.5 551.8 297.8 555.7C298.1 559.6 298.9 567.6 299.4 571.6C299.9 575.6 300.3 576.4 301 580C301.7 583.6 303.4 588.2 303.4 593C303.4 597.8 302.6 603.7 301 609C299.4 614.3 295.7 619.2 293.8 625C291.9 630.8 290.7 638.5 289.8 644C288.9 649.5 288.4 653.8 288.4 658C288.3 662.2 289.3 667.2 289.5 669L285.7 669C285.3 667.2 283.7 662.2 283.3 658C282.9 653.8 282.7 649.5 283.2 644C283.7 638.5 284.7 630.8 286.4 625C288.1 619.2 291.8 614.3 293.6 609C295.4 603.7 297 597.8 297.3 593C297.7 588.2 296.2 583.6 295.7 580C295.2 576.4 294.9 575.6 294.5 571.6C294.2 567.6 293.7 559.6 293.7 555.7C293.6 551.8 293.9 549.3 294 548Z" fill="url(#gC)" transform="translate(641.6 0) scale(-1 1)"/>
<path d="M261 540L271.9 540L271.9 690L268 690L265 640L262 600Z" fill="url(#gS)"/>
<path d="M261 540L271.9 540L271.9 690L268 690L265 640L262 600Z" fill="url(#gS)" transform="translate(641.6 0) scale(-1 1)"/>
<path d="M284 540L289 560L289 600L286.5 630L285 660L284 690Z" fill="url(#gS)"/>
<path d="M284 540L289 560L289 600L286.5 630L285 660L284 690Z" fill="url(#gS)" transform="translate(641.6 0) scale(-1 1)"/>
</g>
<rect x="279.1" y="507.8" width="4.8" height="187.8" fill="#6a4a00"/>
<rect x="280.3" y="508.9" width="3.7" height="186.8" fill="#402000" fill-opacity="0.8"/>
<rect x="279.6" y="508.2" width="3.7" height="186.8" fill="#FFD700"/>
<rect x="272.5" y="496.2" width="7" height="204.6" fill="#400000" fill-opacity="0.4"/>
<rect x="271.9" y="495.6" width="7" height="204.6" fill="#FF0000"/>
<rect x="357.5" y="507.8" width="4.8" height="187.8" fill="#6a4a00"/>
<rect x="358.7" y="508.9" width="3.7" height="186.8" fill="#402000" fill-opacity="0.8"/>
<rect x="358" y="508.2" width="3.7" height="186.8" fill="#FFD700"/>
<rect x="363.1" y="496.2" width="7" height="204.6" fill="#400000" fill-opacity="0.4"/>
<rect x="362.5" y="495.6" width="7" height="204.6" fill="#FF0000"/>
<rect x="299" y="76.7" width="44.1" height="40.1" fill="#504000" fill-opacity="0.6"/>
<rect x="298.1" y="75.8" width="44.1" height="40.1" fill="#F0F000"/>
<rect x="315.6" y="92.3" width="12.1" height="10.4" fill="#304000" fill-opacity="0.5"/>
<rect x="314.7" y="91.4" width="12.1" height="10.4" fill="#AAFFAA"/>
<rect x="309.8" y="126" width="23.7" height="85.4" fill="#302010" fill-opacity="0.6"/>
<rect x="308.9" y="125.1" width="23.7" height="85.4" fill="#C2A594"/>
<rect x="312.8" y="135.9" width="17.7" height="75.3" fill="#201000" fill-opacity="0.5"/>
<rect x="312.1" y="135.2" width="17.7" height="75.3" fill="#8B7355"/>
<rect x="315.9" y="148.1" width="10" height="62.4" fill="#5A2806"/>
<rect x="309" y="159.3" width="25.5" height="13.8" fill="#1a0030" fill-opacity="0.4"/>
<rect x="308.1" y="158.4" width="25.5" height="13.8" fill="#006600"/>
<rect x="273" y="291.5" width="72.9" height="33.4" fill="#400030" fill-opacity="0.5"/>
<rect x="272.1" y="290.6" width="72.9" height="33.4" fill="#AABB66"/>
<rect x="273" y="193" width="39.7" height="108.1" fill="#1a0030" fill-opacity="0.4"/>
<rect x="272.1" y="192.1" width="39.7" height="108.1" fill="#99FF00"/>
<rect x="330.9" y="193" width="40.1" height="108.1" fill="#1a0030" fill-opacity="0.4"/>
<rect x="330" y="192.1" width="40.1" height="108.1" fill="#99FF00"/>
<rect x="265" y="214.3" width="38.6" height="35.2" fill="#1a0030" fill-opacity="0.4"/>
<rect x="264.1" y="213.4" width="38.6" height="35.2" fill="#33C8CC"/>
<rect x="346" y="214.3" width="37.5" height="35.2" fill="#1a0030" fill-opacity="0.4"/>
<rect x="345.1" y="213.4" width="37.5" height="35.2" fill="#33C8CC"/>
<rect x="303.6" y="211.1" width="42" height="48.6" fill="#1a0030" fill-opacity="0.4"/>
<rect x="302.7" y="210.2" width="42" height="48.6" fill="#FF5555"/>
<rect x="307.3" y="227.2" width="6.8" height="41.3" fill="#1a0030" fill-opacity="0.4"/>
<rect x="306.4" y="226.3" width="6.8" height="41.3" fill="#FFAA99"/>
<rect x="326.1" y="205.9" width="13.8" height="38.8" fill="#1a0030" fill-opacity="0.4"/>
<rect x="325.2" y="205" width="13.8" height="38.8" fill="#660099"/>
<rect x="320.6" y="224.7" width="33" height="7.5" fill="#1a0030" fill-opacity="0.4"/>
<rect x="319.7" y="223.8" width="33" height="7.5" fill="#9900FF"/>
<rect x="288.4" y="313.6" width="70.1" height="27.3" fill="#1a0030" fill-opacity="0.4"/>
<rect x="287.5" y="312.7" width="70.1" height="27.3" fill="#FFDD99"/>
<rect x="341.7" y="299.3" width="20.6" height="18" fill="#1a0030" fill-opacity="0.4"/>
<rect x="340.8" y="298.4" width="20.6" height="18" fill="#778855"/>
<rect x="349.1" y="339.9" width="20.7" height="76.5" fill="#1a0030" fill-opacity="0.4"/>
<rect x="348.2" y="339" width="20.7" height="76.5" fill="#EEBB77"/>
<rect x="314.7" y="323.6" width="54.6" height="16.3" fill="#1a0030" fill-opacity="0.4"/>
<rect x="313.8" y="322.7" width="54.6" height="16.3" fill="#995522"/>
<rect x="278.1" y="340.9" width="85.4" height="14.5" fill="#1a0030" fill-opacity="0.4"/>
<rect x="277.2" y="340" width="85.4" height="14.5" fill="#C8955A"/>
<rect x="287.2" y="333" width="16.6" height="18" rx="1.2" fill="#1a0030" fill-opacity="0.4"/>
<rect x="286.3" y="332.1" width="16.6" height="18" rx="1.2" fill="#33DD33"/>
<rect x="336.7" y="333" width="16.3" height="18" rx="1.2" fill="#1a0030" fill-opacity="0.4"/>
<rect x="335.8" y="332.1" width="16.3" height="18" rx="1.2" fill="#33DD33"/>
<rect x="282.1" y="356" width="65.9" height="54.1" fill="#1a0030" fill-opacity="0.4"/>
<rect x="281.2" y="355.1" width="65.9" height="54.1" fill="#555522"/>
<rect x="301.1" y="361.1" width="39" height="43.9" fill="#1a0030" fill-opacity="0.4"/>
<rect x="300.2" y="360.2" width="39" height="43.9" fill="#FF66FF"/>
<rect x="313.3" y="373.2" width="13.9" height="40.7" fill="#1a0030" fill-opacity="0.4"/>
<rect x="312.4" y="372.3" width="13.9" height="40.7" fill="#FF5599"/>
<rect x="311.8" y="383.2" width="17.3" height="15.3" fill="#1a0030" fill-opacity="0.4"/>
<rect x="310.9" y="382.3" width="17.3" height="15.3" fill="#DDDDDD"/>
<rect x="277.9" y="377" width="14.3" height="13.5" fill="#1a0030" fill-opacity="0.4"/>
<rect x="277" y="376.1" width="14.3" height="13.5" fill="#FFAAFF"/>
<rect x="351" y="377.2" width="14.3" height="13.3" fill="#1a0030" fill-opacity="0.4"/>
<rect x="350.1" y="376.3" width="14.3" height="13.3" fill="#FFAAFF"/>
<circle cx="319.8" cy="414.4" r="2.3" fill="#1010EE"/>
<rect x="310.9" y="418.9" width="8.3" height="8" fill="#1a0030" fill-opacity="0.4"/>
<rect x="310" y="418" width="8.3" height="8" fill="#AAAAAA"/>
<rect x="323" y="418.9" width="8.9" height="8" fill="#1a0030" fill-opacity="0.4"/>
<rect x="322.1" y="418" width="8.9" height="8" fill="#AAAAAA"/>
<text x="13.4" y="16" class="h">Brain</text>
<path class="ln" d="M50.4 11.8L320.2 11.8L320.2 84"/>
<path d="M11.8 20.6H5.3V265.4H12.7" fill="none" stroke="#111" stroke-width="1.1"/>
<text x="12.2" y="33">Anterior cingulate cortex (BA24)</text>
<text x="12.2" y="44.8" class="v">938/0 (<tspan font-style="italic">n</tspan> = 72)</text>
<text x="12.2" y="56.6">Caudate nucleus (basal ganglia)</text>
<text x="12.2" y="68.3" class="v">1,967/0 (<tspan font-style="italic">n</tspan> = 100)</text>
<text x="12.2" y="80.1">Cerebellar hemisphere</text>
<text x="12.2" y="91.9" class="v">2,557/0 (<tspan font-style="italic">n</tspan> = 89)</text>
<text x="12.2" y="103.7">Cerebellum</text>
<text x="12.2" y="115.5" class="v">3,454/0 (<tspan font-style="italic">n</tspan> = 103)</text>
<text x="12.2" y="127.2">Cortex</text>
<text x="12.2" y="139" class="v">2,086/0 (<tspan font-style="italic">n</tspan> = 96)</text>
<text x="12.2" y="150.8">Frontal cortex (BA9)</text>
<text x="12.2" y="162.6" class="v">1,588/0 (<tspan font-style="italic">n</tspan> = 92)</text>
<text x="12.2" y="174.4">Hippocampus</text>
<text x="12.2" y="186.1" class="v">853/0 (<tspan font-style="italic">n</tspan> = 81)</text>
<text x="12.2" y="197.9">Hypothalamus</text>
<text x="12.2" y="209.7" class="v">879/0 (<tspan font-style="italic">n</tspan> = 81)</text>
<text x="12.2" y="221.5">Nucleus accumbens (basal ganglia)</text>
<text x="12.2" y="233.3" class="v">1,617/0 (<tspan font-style="italic">n</tspan> = 93)</text>
<text x="12.2" y="245">Putamen (basal ganglia)</text>
<text x="12.2" y="256.8" class="v">1,238/3 (<tspan font-style="italic">n</tspan> = 82)</text>
<circle cx="178.8" cy="95.6" r="3.9" fill="#AAFFAA"/>
<text x="187.6" y="99.6">Pituitary</text>
<text x="187.6" y="113.6" class="v">1,607/0</text>
<text x="187.6" y="127" class="v">(<tspan font-style="italic">n</tspan> = 87)</text>
<path class="ln" d="M232.5 97.3L322.7 97.3"/>
<circle cx="178.8" cy="143.6" r="3.9" fill="#006600"/>
<text x="189.4" y="147.6">Thyroid</text>
<text x="189.4" y="161.6" class="v">7,976/21</text>
<text x="189.4" y="175.2" class="v">(<tspan font-style="italic">n</tspan> = 278)</text>
<path class="ln" d="M232 144.7L320.2 166.9"/>
<circle cx="22.1" cy="301.4" r="3.9" fill="#AABB66"/>
<text x="32.5" y="305.3">Liver</text>
<text x="32.5" y="316.3" class="v">1,231/0 (<tspan font-style="italic">n</tspan> = 97)</text>
<path class="ln" d="M118 311.3L279.6 310.2"/>
<circle cx="22.1" cy="333.6" r="3.9" fill="#FFDD99"/>
<text x="32.5" y="338.1">Stomach</text>
<text x="32.5" y="349.8" class="v">2,938/0 (<tspan font-style="italic">n</tspan> = 170)</text>
<path class="ln" d="M116.4 335.8L297.1 327.2"/>
<circle cx="22.1" cy="367.7" r="3.9" fill="#33DD33"/>
<text x="32.5" y="371.6">Adrenal gland</text>
<text x="32.5" y="383.6" class="v">2,693/1 (<tspan font-style="italic">n</tspan> = 126)</text>
<path class="ln" d="M118 368L293.1 342"/>
<circle cx="22.1" cy="397.7" r="3.9" fill="#FFAA00"/>
<text x="32.5" y="402.1">Subcutaneous adipose</text>
<text x="32.5" y="414.1" class="v">6,963/2 (<tspan font-style="italic">n</tspan> = 298)</text>
<path class="ln" d="M159.5 396.4L214.1 378.5"/>
<circle cx="22.1" cy="431.5" r="3.9" fill="#FF6600"/>
<text x="32.5" y="435.8">Visceral omentum</text>
<text x="32.5" y="447.6" class="v">3,571/0 (<tspan font-style="italic">n</tspan> = 185)</text>
<path class="ln" d="M134.6 432.1L263.9 394.2"/>
<circle cx="22.1" cy="465.6" r="3.9" fill="#555522"/>
<text x="32.5" y="469.8">Small intestine</text>
<text x="32.5" y="481.2">terminal ileum</text>
<text x="32.5" y="494.1" class="v">1,002/0 (<tspan font-style="italic">n</tspan> = 77)</text>
<path class="ln" d="M117.4 466.3L286.4 398.8"/>
<circle cx="22.1" cy="523.7" r="3.9" fill="#DDDDDD"/>
<text x="32.5" y="527.8">Prostate</text>
<text x="32.5" y="540.6" class="v">1,045/0 (<tspan font-style="italic">n</tspan> = 87)</text>
<path class="ln" d="M90.9 522.1L315.9 389.9"/>
<circle cx="22.1" cy="577.2" r="3.9" fill="#FF5599"/>
<text x="32.5" y="580.8">Vagina</text>
<text x="32.5" y="593.7" class="v">582/4 (<tspan font-style="italic">n</tspan> = 79)</text>
<path class="ln" d="M80.4 575.3L319.9 405.5"/>
<circle cx="22.1" cy="618" r="3.9" fill="#FF00BB"/>
<text x="32.5" y="622.2">Whole blood</text>
<text x="32.5" y="634.9" class="v">5,862/1 (<tspan font-style="italic">n</tspan> = 338)</text>
<path class="ln" d="M107.8 616.5L277.6 485"/>
<circle cx="22.1" cy="658" r="3.9" fill="#FFD700"/>
<text x="32.5" y="662.5">Tibial nerve</text>
<text x="32.5" y="674.5" class="v">8,087/0 (<tspan font-style="italic">n</tspan> = 256)</text>
<path class="ln" d="M105.3 658.4L281.4 658.4"/>
<circle cx="22.1" cy="693" r="3.9" fill="#FF0000"/>
<text x="32.5" y="697.1">Tibial artery</text>
<text x="32.5" y="708.8" class="v">6,736/0 (<tspan font-style="italic">n</tspan> = 285)</text>
<path class="ln" d="M104.6 692.7L273.9 692.7"/>
<circle cx="614.2" cy="30.1" r="3.9" fill="#BB9988"/>
<text x="604.5" y="33.4" class="e">Oesophagus muscularis</text>
<text x="604.5" y="45.7" class="v e">5,731/0 (<tspan font-style="italic">n</tspan> = 218)</text>
<path class="ln" d="M479 36.5L322.5 129.6"/>
<circle cx="614.2" cy="66.8" r="3.9" fill="#8B7355"/>
<text x="604.5" y="70" class="e">Gastroesophageal junction</text>
<text x="604.5" y="81.4" class="v e">2,237/0 (<tspan font-style="italic">n</tspan> = 127)</text>
<path class="ln" d="M462.1 69.6L323.8 140.9"/>
<circle cx="614.2" cy="100.6" r="3.9" fill="#552200"/>
<text x="604.5" y="103.9" class="e">Oesophagus mucosa</text>
<text x="604.5" y="115" class="v e">6,169/3 (<tspan font-style="italic">n</tspan> = 241)</text>
<path class="ln" d="M494 104.7L320.9 183.3"/>
<circle cx="614.2" cy="134.1" r="3.9" fill="#660099"/>
<text x="604.5" y="136.8" class="e">Left ventricle</text>
<text x="604.5" y="147.4" class="v e">3,855/0 (<tspan font-style="italic">n</tspan> = 190)</text>
<path class="ln" d="M519.5 133.8L337.6 209"/>
<circle cx="614.2" cy="168.2" r="3.9" fill="#9900FF"/>
<text x="604.5" y="171.8" class="e">Atrial appendage</text>
<text x="604.5" y="183.5" class="v e">3,284/0 (<tspan font-style="italic">n</tspan> = 159)</text>
<path class="ln" d="M510.9 169.1L352.6 226.5"/>
<circle cx="614.2" cy="201.7" r="3.9" fill="#33CCCC"/>
<text x="604.5" y="204.9" class="e">Breast mammary tissue</text>
<text x="604.5" y="216.1" class="v e">3,271/0 (<tspan font-style="italic">n</tspan> = 183)</text>
<path class="ln" d="M478 203.6L368.4 234.8"/>
<circle cx="614.2" cy="234.8" r="3.9" fill="#FF5555"/>
<text x="604.5" y="238.4" class="e">Aorta</text>
<text x="604.5" y="249.9" class="v e">5,162/1 (<tspan font-style="italic">n</tspan> = 197)</text>
<path class="ln" d="M513.8 244.7L332.1 253.1"/>
<circle cx="614.2" cy="265.1" r="3.9" fill="#FFAA99"/>
<text x="604.5" y="267.9" class="e">Coronary artery</text>
<text x="604.5" y="279.9" class="v e">1,882/0 (<tspan font-style="italic">n</tspan> = 118)</text>
<path class="ln" d="M517.9 275L311.3 260.8"/>
<circle cx="614.2" cy="293.7" r="3.9" fill="#99FF00"/>
<text x="604.5" y="297.1" class="e">Lung</text>
<text x="604.5" y="310.9" class="v e">5,884/2 (<tspan font-style="italic">n</tspan> = 278)</text>
<path class="ln" d="M516.3 303.3L356.3 278.4"/>
<circle cx="614.2" cy="323" r="3.9" fill="#778855"/>
<text x="604.5" y="325.8" class="e">Spleen</text>
<text x="604.5" y="336.8" class="v e">2,163/0 (<tspan font-style="italic">n</tspan> = 89)</text>
<path class="ln" d="M517.9 332.6L356.3 308.4"/>
<circle cx="614.2" cy="350.8" r="3.9" fill="#995522"/>
<text x="604.5" y="353.9" class="e">Pancreas</text>
<text x="604.5" y="365.2" class="v e">3,621/2 (<tspan font-style="italic">n</tspan> = 149)</text>
<path class="ln" d="M517 357.5L362.6 329.7"/>
<circle cx="614.2" cy="376.3" r="3.9" fill="#CC9955"/>
<text x="604.5" y="379.7" class="e">Transverse colon</text>
<text x="604.5" y="391.4" class="v e">3,723/2 (<tspan font-style="italic">n</tspan> = 169)</text>
<path class="ln" d="M506.7 375.7L360.1 347.7"/>
<circle cx="614.2" cy="405.3" r="3.9" fill="#FFAAFF"/>
<text x="604.5" y="408.4" class="e">Ovaries</text>
<text x="604.5" y="420.1" class="v e">1,167/0 (<tspan font-style="italic">n</tspan> = 85)</text>
<path class="ln" d="M521.7 413.3L361.4 384"/>
<circle cx="614.2" cy="435.9" r="3.9" fill="#EEBB77"/>
<text x="604.5" y="439" class="e">Sigmoid colon</text>
<text x="604.5" y="451" class="v e">2,269/0 (<tspan font-style="italic">n</tspan> = 124)</text>
<path class="ln" d="M516.3 444.9L363.9 398"/>
<circle cx="614.2" cy="467.2" r="3.9" fill="#FF66FF"/>
<text x="604.5" y="470.3" class="e">Uterus</text>
<text x="604.5" y="481.9" class="v e">655/0 (<tspan font-style="italic">n</tspan> = 70)</text>
<path class="ln" d="M526.5 475.8L334.6 396.8"/>
<circle cx="614.2" cy="500.7" r="3.9" fill="#0000F0"/>
<text x="604.5" y="502.5" class="e">Not sun-exposed</text>
<text x="604.5" y="516.2" class="e">skin (suprapubic)</text>
<text x="604.5" y="531.4" class="v e">4,499/1 (<tspan font-style="italic">n</tspan> = 196)</text>
<path class="ln" d="M514.7 501.3L322.5 415"/>
<circle cx="614.2" cy="550.3" r="3.9" fill="#AAAAAA"/>
<text x="604.5" y="553" class="e">Testis</text>
<text x="604.5" y="564.4" class="v e">6,796/35 (<tspan font-style="italic">n</tspan> = 157)</text>
<path class="ln" d="M507.3 558.5L327.6 423"/>
<circle cx="614.2" cy="586.3" r="3.9" fill="#AAAAFF"/>
<text x="604.5" y="590.4" class="e">Skeletal muscle</text>
<text x="604.5" y="602.3" class="v e">6,049/9 (<tspan font-style="italic">n</tspan> = 361)</text>
<path class="ln" d="M520.8 587.6L383.9 507"/>
<circle cx="614.2" cy="621.9" r="3.9" fill="#7777F6"/>
<text x="604.5" y="625.4" class="e">Sun-exposed skin (lower leg)</text>
<text x="604.5" y="638.2" class="v e">7,109/6 (<tspan font-style="italic">n</tspan> = 302)</text>
<path class="ln" d="M458.2 621.1L384.6 621.1"/>
<circle cx="614.2" cy="658.5" r="3.9" fill="#AAEEFF"/>
<text x="604.5" y="662.2" class="e">Fibroblasts</text>
<text x="604.5" y="674.4" class="v e">7,513/1 (<tspan font-style="italic">n</tspan> = 272)</text>
<circle cx="614.2" cy="693.5" r="3.9" fill="#CC66FF"/>
<text x="604.5" y="697.2" class="e">EBV-transformed lymphocytes</text>
<text x="604.5" y="709.5" class="v e">2,360/0 (<tspan font-style="italic">n</tspan> = 114)</text>
<text x="316" y="766" class="b m">Total unique eGenes</text>
<text x="316" y="779.8" class="m"><tspan font-style="italic">cis</tspan>: 19,725 (FDR 5%)</text>
<text x="315.6" y="796.5" class="m"><tspan font-style="italic">trans</tspan>: 93 (FDR 10%)</text>
</svg>
</body></html>
